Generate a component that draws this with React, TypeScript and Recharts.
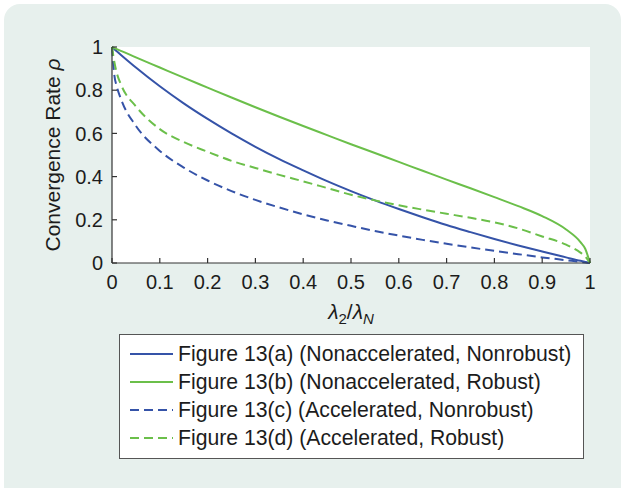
import React from "react";
import { LineChart, Line, XAxis, YAxis, Label } from "recharts";

// lambda2 / lambdaN sample positions
const ratio = [0, 0.005, 0.01, 0.02, 0.05, 0.1, 0.15, 0.2, 0.25, 0.3, 0.35, 0.4, 0.45, 0.5, 0.55, 0.6, 0.65, 0.7, 0.75, 0.8, 0.85, 0.9, 0.95, 0.98, 0.99, 1];

// 13(a) nonaccelerated, nonrobust
const rateA = [1, 0.99, 0.98, 0.961, 0.905, 0.818, 0.739, 0.667, 0.6, 0.538, 0.481, 0.429, 0.379, 0.333, 0.29, 0.25, 0.212, 0.176, 0.143, 0.111, 0.081, 0.053, 0.026, 0.01, 0.005, 0];
// 13(b) nonaccelerated, robust
const rateB = [1, 0.995, 0.99, 0.981, 0.952, 0.905, 0.858, 0.812, 0.766, 0.721, 0.677, 0.634, 0.592, 0.55, 0.509, 0.468, 0.427, 0.386, 0.346, 0.305, 0.263, 0.217, 0.155, 0.097, 0.066, 0];
// 13(c) accelerated, nonrobust
const rateC = [1, 0.868, 0.818, 0.752, 0.635, 0.519, 0.442, 0.382, 0.333, 0.292, 0.257, 0.225, 0.197, 0.172, 0.148, 0.127, 0.107, 0.089, 0.072, 0.056, 0.041, 0.026, 0.013, 0.005, 0.0025, 0];
// 13(d) accelerated, robust
const rateD = [1, 0.93, 0.88, 0.82, 0.725, 0.62, 0.56, 0.515, 0.473, 0.44, 0.408, 0.378, 0.347, 0.316, 0.29, 0.267, 0.247, 0.228, 0.209, 0.188, 0.16, 0.123, 0.085, 0.048, 0.03, 0];

const xTicks = [0, 0.1, 0.2, 0.3, 0.4, 0.5, 0.6, 0.7, 0.8, 0.9, 1];
const yTicks = [0, 0.2, 0.4, 0.6, 0.8, 1];

const legendNames = [
  "Figure 13(a) (Nonaccelerated, Nonrobust)",
  "Figure 13(b) (Nonaccelerated, Robust)",
  "Figure 13(c) (Accelerated, Nonrobust)",
  "Figure 13(d) (Accelerated, Robust)",
];

const BLUE = "#3553a8";
const GREEN = "#6bbf4a";
const AXIS = "#333333";
const TEXT = "#1c1c1c";
const FONT = "'Liberation Sans', Arial, Helvetica, sans-serif";
const DASH = "9 5";

const data = ratio.map((r, i) => ({ r, a: rateA[i], b: rateB[i], c: rateC[i], d: rateD[i] }));

const fmt = (v: number) => String(Number(v.toFixed(1)));

const BottomTick = (props: any) => {
  const { x, y, payload } = props;
  return (
    <g>
      <line x1={x} x2={x} y1={y} y2={y - 5} stroke={AXIS} strokeWidth={1.2} />
      <text x={x} y={y + 26} textAnchor="middle" fontSize={20} fontFamily={FONT} fill={TEXT}>
        {fmt(payload.value)}
      </text>
    </g>
  );
};

const TopTick = (props: any) => {
  const { x, y } = props;
  return <line x1={x} x2={x} y1={y} y2={y + 5} stroke={AXIS} strokeWidth={1.2} />;
};

const LeftTick = (props: any) => {
  const { x, y, payload } = props;
  return (
    <g>
      <line x1={x} x2={x + 5} y1={y} y2={y} stroke={AXIS} strokeWidth={1.2} />
      <text x={x - 9} y={y} dy="0.36em" textAnchor="end" fontSize={20} fontFamily={FONT} fill={TEXT}>
        {fmt(payload.value)}
      </text>
    </g>
  );
};

const RightTick = (props: any) => {
  const { x, y } = props;
  return <line x1={x} x2={x - 5} y1={y} y2={y} stroke={AXIS} strokeWidth={1.2} />;
};

const XTitle = (props: any) => {
  const { viewBox } = props;
  const cx = viewBox.x + viewBox.width / 2;
  return (
    <text x={cx} y={viewBox.y + 56} textAnchor="middle" fontSize={21} fontFamily={FONT} fill={TEXT}>
      <tspan fontStyle="italic">λ</tspan>
      <tspan fontSize={15} dy={5}>2</tspan>
      <tspan dy={-5}>/</tspan>
      <tspan fontStyle="italic">λ</tspan>
      <tspan fontSize={15} fontStyle="italic" dy={5}>N</tspan>
    </text>
  );
};

const YTitle = (props: any) => {
  const { viewBox } = props;
  const cx = 52;
  const cy = viewBox.y + viewBox.height / 2;
  return (
    <text
      x={cx}
      y={cy}
      dy="0.36em"
      textAnchor="middle"
      fontSize={21}
      fontFamily={FONT}
      fill={TEXT}
      transform={`rotate(-90 ${cx} ${cy})`}
    >
      Convergence Rate <tspan fontStyle="italic">ρ</tspan>
    </text>
  );
};

export default function App() {
  return (
    <div style={{ position: "absolute", left: 0, top: 0, width: 623, height: 488, background: "#fff", overflow: "hidden" }}>
      <div
        style={{
          position: "absolute",
          left: 4,
          top: 4,
          width: 617,
          height: 510,
          background: "#e7f0ed",
          borderRadius: 16,
        }}
      />
      <div style={{ position: "absolute", left: 0, top: 0 }}>
        <LineChart
          width={623}
          height={488}
          data={data}
          margin={{ top: 47, right: 33, left: 52, bottom: 165 }}
        >
          <rect x={112} y={47} width={478} height={216} fill="#fff" />
          <XAxis
            xAxisId="bottom"
            dataKey="r"
            type="number"
            domain={[0, 1]}
            ticks={xTicks}
            height={60}
            tickSize={0}
            tickMargin={0}
            tickLine={false}
            tick={<BottomTick />}
            stroke={AXIS}
            strokeWidth={1.2}
            interval={0}
          >
            <Label content={<XTitle />} />
          </XAxis>
          <XAxis
            xAxisId="top"
            orientation="top"
            dataKey="r"
            type="number"
            domain={[0, 1]}
            ticks={xTicks}
            height={0}
            tickSize={0}
            tickMargin={0}
            tickLine={false}
            tick={<TopTick />}
            stroke={AXIS}
            strokeWidth={1.2}
            interval={0}
          />
          <YAxis
            yAxisId="left"
            type="number"
            domain={[0, 1]}
            ticks={yTicks}
            width={60}
            tickSize={0}
            tickMargin={0}
            tickLine={false}
            tick={<LeftTick />}
            stroke={AXIS}
            strokeWidth={1.2}
            interval={0}
          >
            <Label content={<YTitle />} />
          </YAxis>
          <YAxis
            yAxisId="right"
            orientation="right"
            type="number"
            domain={[0, 1]}
            ticks={yTicks}
            width={0}
            tickSize={0}
            tickMargin={0}
            tickLine={false}
            tick={<RightTick />}
            stroke={AXIS}
            strokeWidth={1.2}
            interval={0}
          />
          <Line xAxisId="bottom" yAxisId="left" type="monotone" dataKey="a" stroke={BLUE} strokeWidth={2} dot={false} isAnimationActive={false} />
          <Line xAxisId="bottom" yAxisId="left" type="monotone" dataKey="b" stroke={GREEN} strokeWidth={2} dot={false} isAnimationActive={false} />
          <Line xAxisId="bottom" yAxisId="left" type="monotone" dataKey="c" stroke={BLUE} strokeWidth={2} strokeDasharray={DASH} dot={false} isAnimationActive={false} />
          <Line xAxisId="bottom" yAxisId="left" type="monotone" dataKey="d" stroke={GREEN} strokeWidth={2} strokeDasharray={DASH} dot={false} isAnimationActive={false} />
        </LineChart>
      </div>
      {/* Legend */}
      <div
        style={{
          position: "absolute",
          left: 119,
          top: 334,
          width: 463,
          height: 123,
          background: "#fff",
          border: "1.5px solid #555",
          fontFamily: FONT,
          fontSize: 21.2,
          color: TEXT,
        }}
      >
        {legendNames.map((name, i) => (
          <div
            key={name}
            style={{ position: "absolute", left: 0, top: 5 + i * 28, height: 28, display: "flex", alignItems: "center", whiteSpace: "nowrap" }}
          >
            <svg width={58} height={10} style={{ marginLeft: 10 }}>
              <line
                x1={0}
                x2={43}
                y1={5}
                y2={5}
                stroke={i % 2 === 0 ? BLUE : GREEN}
                strokeWidth={2}
                strokeDasharray={i >= 2 ? DASH : undefined}
              />
            </svg>
            <span style={{ marginLeft: -10 }}>{name}</span>
          </div>
        ))}
      </div>
    </div>
  );
}
